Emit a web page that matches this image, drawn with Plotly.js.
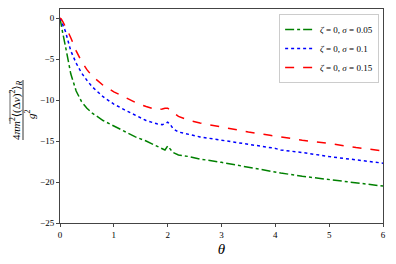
<!DOCTYPE html>
<html><head><meta charset="utf-8">
<script src="https://cdn.plot.ly/plotly-3.0.1.min.js"></script>
<style>html,body{margin:0;padding:0;background:#fff}#c{width:396px;height:264px}</style>
</head><body><div id="c"></div>
<script>
const theta = [0, 0.02, 0.05, 0.1, 0.15, 0.2, 0.3, 0.4, 0.5, 0.6, 0.8, 1.0, 1.2, 1.4, 1.6, 1.8, 1.9, 1.95, 2.0, 2.05, 2.1, 2.2, 2.4, 2.6, 3.0, 3.5, 3.9, 4.0, 4.1, 4.5, 5.0, 5.5, 6.0];
const sig005 = [0, -0.8, -1.8, -3.4, -5.3, -6.8, -8.9, -10.2, -11.0, -11.6, -12.5, -13.2, -13.9, -14.5, -15.0, -15.6, -16.0, -16.1, -15.6, -16.0, -16.4, -16.7, -16.9, -17.2, -17.6, -18.2, -18.7, -18.8, -18.9, -19.3, -19.7, -20.1, -20.5];
const sig01 = [0, -0.3, -0.8, -1.6, -2.8, -4.0, -5.5, -6.7, -7.6, -8.4, -9.6, -10.5, -11.2, -11.9, -12.5, -12.9, -13.0, -12.9, -12.7, -13.0, -13.5, -13.9, -14.2, -14.5, -14.9, -15.4, -15.8, -15.9, -16.1, -16.4, -16.9, -17.3, -17.7];
const sig015 = [0, -0.1, -0.4, -1.0, -1.7, -2.4, -4.0, -5.3, -6.3, -7.1, -8.2, -9.0, -9.7, -10.3, -10.8, -11.2, -11.1, -11.0, -11.0, -11.2, -11.5, -12.0, -12.5, -12.8, -13.3, -13.9, -14.3, -14.4, -14.5, -14.9, -15.3, -15.8, -16.2];
const names = ['<i>ζ</i> = 0, <i>σ</i> = 0.05', '<i>ζ</i> = 0, <i>σ</i> = 0.1', '<i>ζ</i> = 0, <i>σ</i> = 0.15'];
const xTicks = [0, 1, 2, 3, 4, 5, 6];
const yTicks = [0, -5, -10, -15, -20, -25];

const font = 'Liberation Serif, DejaVu Serif, serif';
const traces = [
  {x: theta, y: sig005, name: names[0], mode: 'lines', line: {color: '#008000', width: 1.5, dash: 'dashdot'}},
  {x: theta, y: sig01, name: names[1], mode: 'lines', line: {color: '#0000ff', width: 1.5, dash: 'dot'}},
  {x: theta, y: sig015, name: names[2], mode: 'lines', line: {color: '#ff0000', width: 1.5, dash: 'dash'}}
];
const axisCommon = {showgrid: false, zeroline: false, showline: true, mirror: true, linecolor: '#444', linewidth: 1,
  ticks: 'outside', ticklen: 3, tickcolor: '#444', tickfont: {family: font, size: 9, color: '#000'}};
const W = 323, H = 214;
const layout = {
  width: 396, height: 264,
  margin: {l: 60, r: 13, t: 9, b: 41},
  paper_bgcolor: '#fff', plot_bgcolor: '#fff',
  font: {family: font, color: '#000'},
  xaxis: Object.assign({}, axisCommon, {range: [0, 6], tickvals: xTicks,
    title: {text: '<i>θ</i>', font: {family: font, size: 15}, standoff: 4}}),
  yaxis: Object.assign({}, axisCommon, {range: [-25, 1.1], tickvals: yTicks}),
  legend: {x: 0.988, y: 0.977, xanchor: 'right', yanchor: 'top', bgcolor: '#fff', bordercolor: '#ccc', borderwidth: 1,
    font: {family: font, size: 9}, tracegroupgap: 0, itemwidth: 30},
  annotations: [
    {xref: 'paper', yref: 'paper', x: 0, y: (223-110)/H, xshift: -44, xanchor: 'center', yanchor: 'middle', textangle: -90, showarrow: false,
     text: '4<i>πm</i><sup>2</sup>⟨(Δ<i>v</i>)<sup>2</sup>⟩<sub><i>R</i></sub>', font: {family: font, size: 11}},
    {xref: 'paper', yref: 'paper', x: 0, y: (223-114)/H, xshift: -30, xanchor: 'center', yanchor: 'middle', textangle: -90, showarrow: false,
     text: '<i>g</i><sup>2</sup>', font: {family: font, size: 11}}
  ],
  shapes: [
    {type: 'line', xref: 'paper', yref: 'paper', x0: -37/W, x1: -37/W, y0: (223-140)/H, y1: (223-80)/H,
     line: {color: '#000', width: 0.8}},
    {type: 'line', xref: 'paper', yref: 'paper', x0: -50/W, x1: -50/W, y0: (223-124)/H, y1: (223-90)/H,
     line: {color: '#000', width: 0.6}}
  ]
};
Plotly.newPlot('c', traces, layout, {staticPlot: true, displayModeBar: false});
</script></body></html>
